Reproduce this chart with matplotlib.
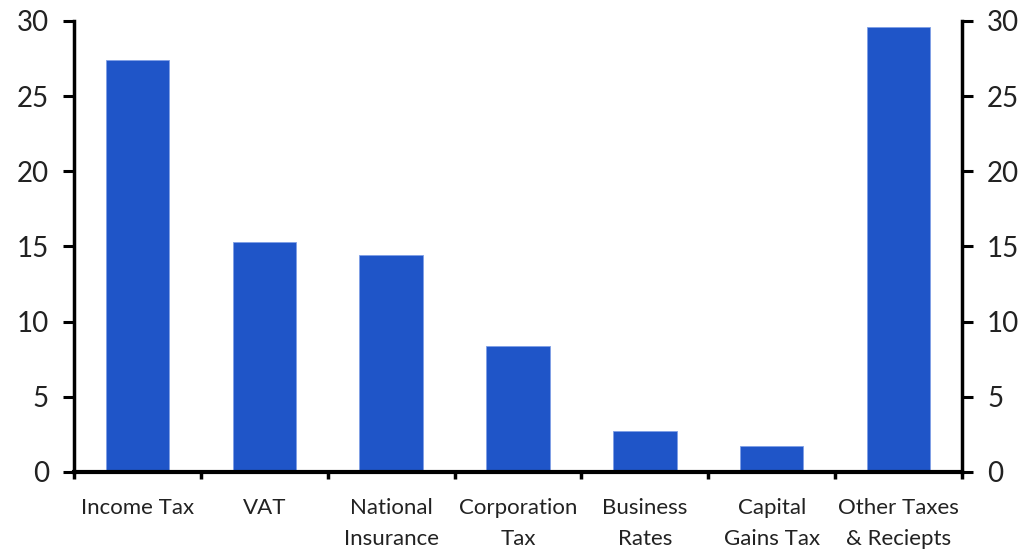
import matplotlib
matplotlib.use("Agg")
import matplotlib.pyplot as plt

# ================================================================
# DATA
# ================================================================

categories = ["Income Tax", "VAT", "National\nInsurance", "Corporation\nTax",
              "Business\nRates", "Capital\nGains Tax", "Other Taxes\n& Reciepts"]
shares = [27.4, 15.3, 14.45, 8.35, 2.7, 1.7, 29.6]
y_ticks = [0, 5, 10, 15, 20, 25, 30]

BAR_COLOR = "#1f55c8"
TEXT_COLOR = "#222222"

plt.rcParams["font.family"] = ["Lato", "DejaVu Sans"]

# ================================================================
# PLOT
# ================================================================

fig = plt.figure(figsize=(10.29, 5.52), dpi=100)
ax = fig.add_axes([0.0719, 0.145, 0.8630, 0.817])

x = list(range(len(categories)))
ax.bar(x, shares, width=0.5, color=BAR_COLOR, edgecolor="#7f9fe6",
       linewidth=0.6, zorder=2)

ax.set_xlim(-0.5, len(categories) - 0.5)
ax.set_ylim(0, 30)

# category labels centred, ticks at the boundaries
ax.set_xticks(x)
ax.set_xticklabels(categories, fontsize=16, color=TEXT_COLOR,
                   linespacing=1.65)
ax.tick_params(axis="x", which="major", length=0, pad=19)
ax.set_xticks([i - 0.5 for i in range(len(categories) + 1)], minor=True)
ax.tick_params(axis="x", which="minor", length=5, width=2.5,
               direction="out", color="black")

ax.set_yticks(y_ticks)
ax.tick_params(axis="y", labelsize=20, length=8, width=2.2, colors="black",
               labelcolor=TEXT_COLOR, pad=10, direction="out")

# mirrored right axis
ax2 = ax.twinx()
ax2.set_ylim(ax.get_ylim())
ax2.set_yticks(y_ticks)
ax2.tick_params(axis="y", labelsize=20, length=8, width=2.2, colors="black",
                labelcolor=TEXT_COLOR, pad=10, direction="out")

for a in (ax, ax2):
    a.spines["top"].set_visible(False)
    for side in ("left", "right", "bottom"):
        a.spines[side].set_linewidth(2.5)
        a.spines[side].set_color("black")
ax.spines["right"].set_visible(False)
ax2.spines["left"].set_visible(False)
ax2.spines["bottom"].set_visible(False)
ax.spines["bottom"].set_linewidth(3)

fig.savefig("out.png", dpi=100)
